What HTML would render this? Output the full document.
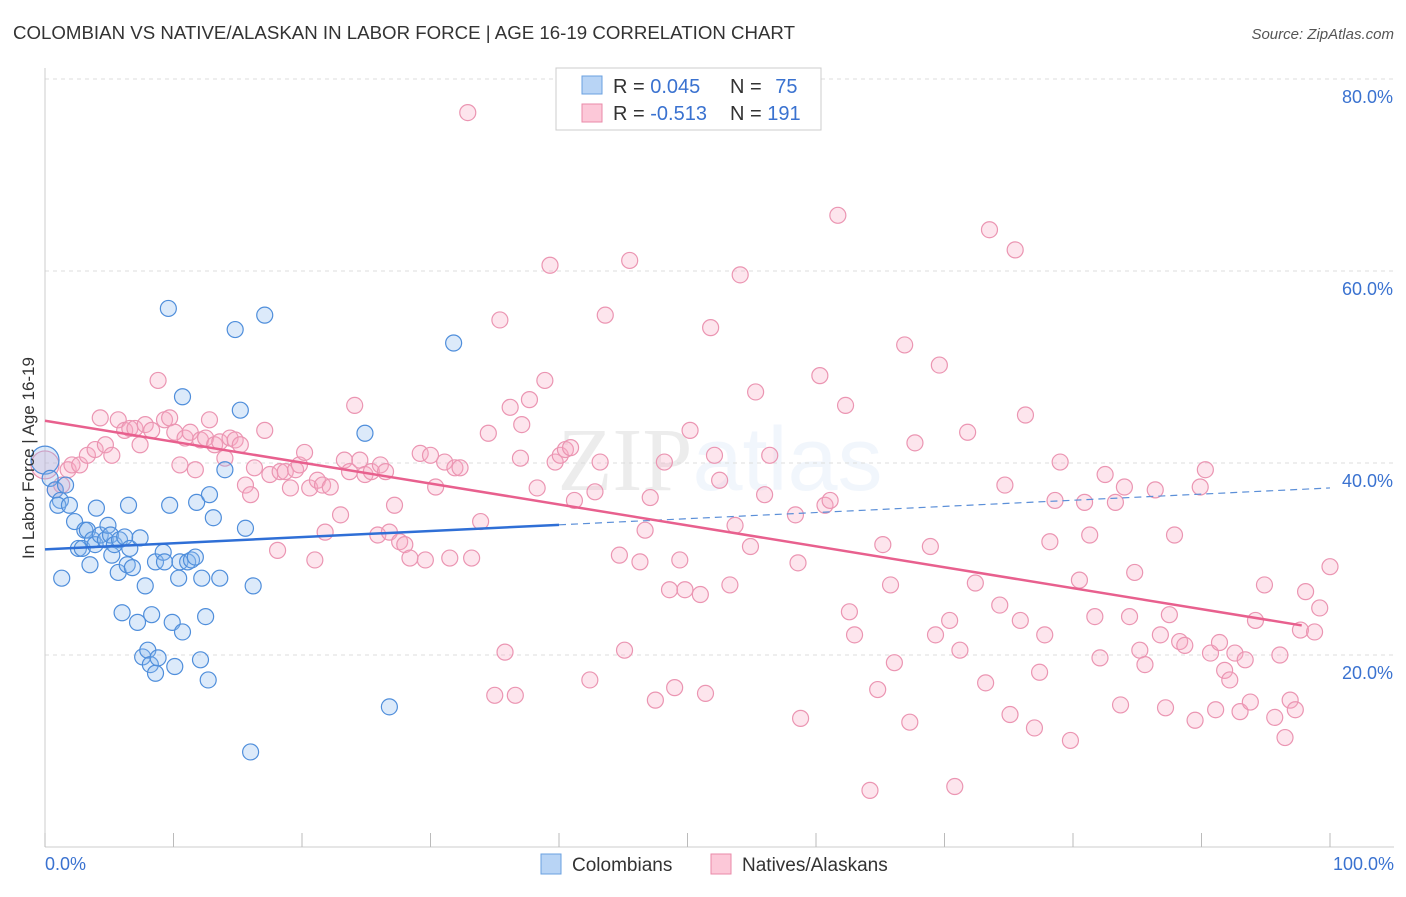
<!DOCTYPE html>
<html><head><meta charset="utf-8"><style>
html,body{margin:0;padding:0;background:#fff;}
body{width:1406px;height:892px;overflow:hidden;font-family:"Liberation Sans",sans-serif;}
</style></head><body>
<svg id="chart" width="1406" height="892" xmlns="http://www.w3.org/2000/svg">
<text x="13" y="39" font-size="18" fill="#333" textLength="782" lengthAdjust="spacingAndGlyphs">COLOMBIAN VS NATIVE/ALASKAN IN LABOR FORCE | AGE 16-19 CORRELATION CHART</text>
<text x="1394" y="39" font-size="15" fill="#555" font-style="italic" text-anchor="end">Source: ZipAtlas.com</text>
<text x="720" y="490" font-size="90" fill="#000" opacity="0.07" text-anchor="middle" font-family="Liberation Serif, serif">ZIP<tspan font-family="Liberation Sans, sans-serif" fill="#3a7bd5" opacity="0.9">atlas</tspan></text>
<g id="grid"></g><g id="axes"></g><g id="lines"></g><g id="pts"></g>
<text transform="translate(34,458) rotate(-90)" font-size="17" fill="#333" text-anchor="middle">In Labor Force | Age 16-19</text>
<g>
<rect x="556" y="68" width="265" height="62" fill="#fff" stroke="#ccc"/>
<rect x="582" y="76" width="20" height="18" fill="#b8d4f5" stroke="#6aa0e0"/>
<rect x="582" y="104" width="20" height="18" fill="#fcc8d8" stroke="#ea8aa8"/>
<text x="613" y="93" font-size="20" fill="#333">R = <tspan fill="#3a72d0">0.045</tspan></text>
<text x="730" y="93" font-size="20" fill="#333">N = <tspan fill="#3a72d0" dx="8">75</tspan></text>
<text x="613" y="120" font-size="20" fill="#333">R = <tspan fill="#3a72d0">-0.513</tspan></text>
<text x="730" y="120" font-size="20" fill="#333">N = <tspan fill="#3a72d0">191</tspan></text>
</g>
<g>
<rect x="541" y="854" width="20" height="20" fill="#b8d4f5" stroke="#6aa0e0"/>
<text x="572" y="871" font-size="19" fill="#333">Colombians</text>
<rect x="711" y="854" width="20" height="20" fill="#fcc8d8" stroke="#ea8aa8"/>
<text x="742" y="871" font-size="19" fill="#333">Natives/Alaskans</text>
</g>
</svg>
<script>
const blueX=[0,0.4,0.8,1.2,1.6,1.0,1.9,1.3,2.3,2.6,2.9,3.1,3.3,3.5,3.7,3.9,4.0,4.3,4.7,4.9,5.1,5.2,5.4,5.7,5.8,6.0,6.2,6.4,6.5,6.6,6.8,7.2,7.4,7.6,7.8,8.0,8.2,8.3,8.6,8.6,8.8,9.2,9.3,9.7,9.6,9.9,10.1,10.4,10.5,10.7,10.7,11.1,11.4,11.7,11.8,12.1,12.2,12.5,12.7,12.8,13.1,13.6,14.0,14.8,15.2,15.6,16.0,16.2,17.1,24.9,26.8,31.8];
const blueY=[40.3,38.4,37.2,36.1,37.7,35.6,35.6,28.0,33.9,31.1,31.1,33.0,33.0,29.4,32.0,31.5,35.3,32.5,32.0,33.5,32.5,30.4,31.5,28.6,32.0,24.4,32.3,29.4,35.6,31.1,29.1,23.4,32.2,19.8,27.2,20.5,19.0,24.2,18.1,29.7,19.7,30.7,29.7,35.6,56.1,23.4,18.8,28.0,29.7,22.4,46.9,29.7,29.9,30.2,35.9,19.5,28.0,24.0,17.4,36.7,34.3,28.0,39.3,53.9,45.5,33.2,9.9,27.2,55.4,43.1,14.6,52.5];
const pinkX=[0,0.8,1.3,1.8,2.1,2.7,3.3,3.9,4.3,4.7,5.2,5.7,6.2,6.6,7.0,7.4,7.8,8.3,8.8,9.3,9.7,10.1,10.5,10.9,11.3,11.7,12.1,12.5,12.8,13.2,13.6,14.0,14.4,14.8,15.2,15.6,16.0,16.3,17.1,17.5,18.1,18.3,18.7,19.1,19.5,19.8,20.2,20.6,21.0,21.2,21.6,21.8,22.2,23.0,23.3,23.7,24.1,24.5,24.9,25.4,25.9,26.1,26.5,26.8,27.2,27.6,28.0,28.4,29.2,29.6,30.0,30.4,31.1,31.5,31.9,32.3,32.9,33.2,33.9,34.5,35.0,35.4,35.8,36.2,36.6,37.0,37.1,37.7,38.3,38.9,39.3,39.7,40.1,40.5,40.9,41.2,42.4,42.8,43.2,43.6,44.7,45.1,45.5,46.3,46.7,47.1,47.5,48.2,48.6,49.0,49.4,49.8,50.2,51.0,51.4,51.8,52.1,52.5,53.3,53.7,54.1,54.9,55.3,56.0,56.4,58.4,58.6,58.8,60.3,60.7,61.1,61.7,62.3,62.6,63.0,64.2,64.8,65.2,65.8,66.1,66.9,67.3,67.7,68.9,69.3,69.6,70.4,70.8,71.2,71.8,72.4,73.2,73.5,74.3,74.7,75.1,75.5,75.9,76.3,77.0,77.4,77.8,78.2,78.6,79.0,79.8,80.5,80.9,81.3,81.7,82.1,82.5,83.3,83.7,84.0,84.4,84.8,85.2,85.6,86.4,86.8,87.2,87.5,87.9,88.3,88.7,89.5,89.9,90.3,90.7,91.1,91.4,91.8,92.2,92.6,93.0,93.4,93.8,94.2,94.9,95.7,96.1,96.5,96.9,97.3,97.7,98.1,98.8,99.2,100];
const pinkY=[39.8,37.2,37.7,39.3,39.8,39.8,40.8,41.4,44.7,41.9,40.8,44.5,43.4,43.6,43.6,41.9,44.0,43.4,48.6,44.5,44.7,43.2,39.8,42.6,43.2,39.3,42.4,42.6,44.5,41.9,42.2,40.5,42.6,42.4,41.9,37.7,36.7,39.5,43.4,38.8,30.9,39.1,39.1,37.4,39.3,39.8,41.1,37.4,29.9,38.2,37.7,32.8,37.5,34.6,40.3,39.1,46.0,40.3,38.8,39.1,32.5,39.8,39.1,32.8,35.6,31.8,31.5,30.1,41.0,29.9,40.8,37.5,40.1,30.1,39.5,39.5,76.5,30.1,33.9,43.1,15.8,54.9,20.3,45.8,15.8,40.5,44.0,46.6,37.4,48.6,60.6,40.1,40.8,41.4,41.6,36.1,17.4,37.0,40.1,55.4,30.4,20.5,61.1,29.7,33.0,36.4,15.3,40.1,26.8,16.6,29.9,26.8,43.4,26.3,16.0,54.1,40.8,38.2,27.3,33.5,59.6,31.3,47.4,36.7,40.8,34.6,29.6,13.4,49.1,35.6,36.1,65.8,46.0,24.5,22.1,5.9,16.4,31.5,27.3,19.2,52.3,13.0,42.1,31.3,22.1,50.2,23.6,6.3,20.5,43.2,27.5,17.1,64.3,25.2,37.7,13.8,62.2,23.6,45.0,12.4,18.2,22.1,31.8,36.1,40.1,11.1,27.8,35.9,32.5,24.0,19.7,38.8,35.9,14.8,37.5,24.0,28.6,20.5,19.0,37.2,22.1,14.5,24.2,32.5,21.4,21.0,13.2,37.5,39.3,20.2,14.3,21.3,18.4,17.4,20.2,14.1,19.5,15.1,23.6,27.3,13.5,20.0,11.4,15.3,14.3,22.6,26.6,22.4,24.9,29.2];
const yTicks=[20,40,60,80];
const yTickLabels=["20.0%","40.0%","60.0%","80.0%"];
const xTicks=[0,10,20,30,40,50,60,70,80,90,100];
const xTickLabels=["0.0%","100.0%"];
const blueTrend=[31.0,0.064];
const pinkTrend=[44.4,-0.218];
const blueSolidEnd=40;
const pinkEnd=97.8;

const NS="http://www.w3.org/2000/svg";
const sx=v=>45+v*12.85;
const sy=v=>847-v*9.6;
function mk(tag,attrs,parent){const e=document.createElementNS(NS,tag);for(const k in attrs)e.setAttribute(k,attrs[k]);parent.appendChild(e);return e;}
const grid=document.getElementById('grid'),axes=document.getElementById('axes'),lines=document.getElementById('lines'),pts=document.getElementById('pts');
yTicks.forEach((t,i)=>{
  const l=mk('line',{x1:45,x2:1394,y1:sy(t),y2:sy(t),stroke:'#ddd','stroke-dasharray':'4,4'},grid);
  
  
  const tx=mk('text',{x:1393,y:sy(t)+24,'font-size':18,fill:'#3a72d0','text-anchor':'end'},axes);
  tx.textContent=yTickLabels[i];
  
  
});
const ax=mk('line',{x1:45,x2:1394,y1:847,y2:847,stroke:'#ccc'},axes);


const ay=mk('line',{x1:45,x2:45,y1:68,y2:847,stroke:'#ccc'},axes);


xTicks.forEach(t=>{
  const l=mk('line',{x1:sx(t),x2:sx(t),y1:833,y2:847,stroke:'#bbb'},axes);
  
  
});
[[0,'start',45],[100,'end',1394]].forEach((d,i)=>{
  const tx=mk('text',{x:d[2],y:870,'font-size':18,fill:'#3a72d0','text-anchor':d[1]},axes);
  tx.textContent=xTickLabels[i];
  
  
});
function dot(x,y,fill,stroke,r,name){
  const c=mk('circle',{cx:sx(x),cy:sy(y),r:r,fill:fill,stroke:stroke,'stroke-width':1.2},pts);
  
  
}
pinkX.forEach((x,i)=>dot(x,pinkY[i],'rgba(248,170,196,0.3)','#eb95b2',i===0?14:8,'native-point'));
blueX.forEach((x,i)=>dot(x,blueY[i],'rgba(140,185,240,0.3)','#4f8edb',i===0?14:8,'colombian-point'));
const b1=mk('line',{x1:sx(0),y1:sy(blueTrend[0]),x2:sx(blueSolidEnd),y2:sy(blueTrend[0]+blueTrend[1]*blueSolidEnd),stroke:'#2f6fd6','stroke-width':2.5},lines);


const b2=mk('line',{x1:sx(blueSolidEnd),y1:sy(blueTrend[0]+blueTrend[1]*blueSolidEnd),x2:sx(100),y2:sy(blueTrend[0]+blueTrend[1]*100),stroke:'#5b8fd8','stroke-width':1.2,'stroke-dasharray':'7,5'},lines);


const p1=mk('line',{x1:sx(0),y1:sy(pinkTrend[0]),x2:sx(pinkEnd),y2:sy(pinkTrend[0]+pinkTrend[1]*pinkEnd),stroke:'#e8608e','stroke-width':2.5},lines);


document.getElementById('chart').appendChild(lines);
</script>
</body></html>
